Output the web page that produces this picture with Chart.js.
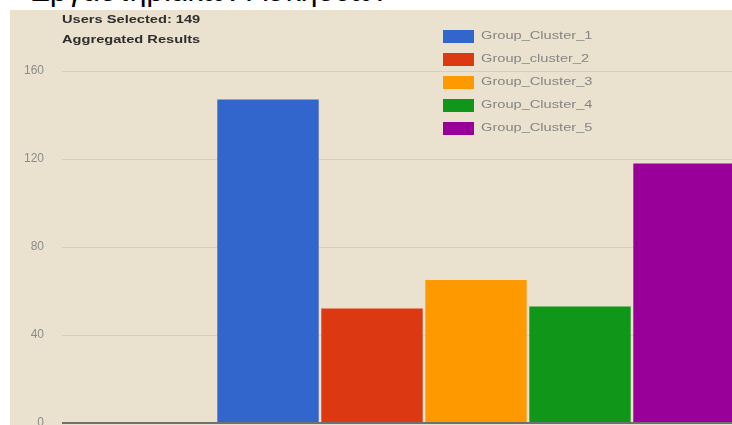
<!DOCTYPE html>
<html>
<head>
<meta charset="utf-8">
<script src="https://cdn.jsdelivr.net/npm/chart.js@4/dist/chart.umd.min.js"></script>
<style>
  html, body { margin: 0; padding: 0; background: #fff; }
  body { width: 732px; height: 425px; overflow: hidden; position: relative; }
  #heading {
    position: absolute; left: 30px; top: -24px;
    font: 30px/30px "Liberation Sans", Arial, sans-serif; color: #000;
    white-space: nowrap; z-index: 0;
  }
  #chartBox {
    position: absolute; left: 10px; top: 10px; width: 880px; height: 415px;
    background: #eae1cf; z-index: 1;
  }
</style>
</head>
<body>
<div id="heading">Εργαστηριακών Ασκήσεων</div>
<div id="chartBox"><canvas id="clusterChart"></canvas></div>
<script>
const headerLines = ['Users Selected: 149', 'Aggregated Results'];
const categories = [''];
const seriesLabels = ['Group_Cluster_1', 'Group_cluster_2', 'Group_Cluster_3', 'Group_Cluster_4', 'Group_Cluster_5'];
const seriesValues = [147, 52, 65, 53, 118];
const seriesColors = ['#3366cc', '#dc3912', '#ff9900', '#109618', '#990099'];
const yTicks = [0, 40, 80, 120, 160];

// header text and the boxed legend drawn straight onto the canvas,
// text is stretched sideways like the old exported image
const overlay = {
    id: 'overlay',
    afterDraw(chart) {
        const ctx = chart.ctx;
        const area = chart.chartArea;
        const stretch = 1.33;
        ctx.save();
        ctx.textBaseline = 'middle';

        ctx.fillStyle = '#2e2e2e';
        ctx.font = 'bold 11px "Liberation Sans", Arial, sans-serif';
        headerLines.forEach((line, i) => {
            ctx.save();
            ctx.translate(area.left, 10 + i * 20);
            ctx.scale(stretch, 1);
            ctx.fillText(line, 0, 0);
            ctx.restore();
        });

        ctx.font = '11px "Liberation Sans", Arial, sans-serif';
        chart.data.datasets.forEach((ds, i) => {
            const y = 26 + i * 23;
            ctx.fillStyle = ds.backgroundColor;
            ctx.fillRect(433, y - 6, 31, 13);
            ctx.save();
            ctx.translate(471, y);
            ctx.scale(stretch, 1);
            ctx.fillStyle = '#858585';
            ctx.fillText(ds.label, 0, 0);
            ctx.restore();
        });
        ctx.restore();
    }
};

new Chart(document.getElementById('clusterChart'), {
    type: 'bar',
    data: {
        labels: categories,
        datasets: seriesLabels.map((label, i) => ({
            label,
            data: [seriesValues[i]],
            backgroundColor: seriesColors[i],
            borderWidth: 0,
            barPercentage: 0.975,
            categoryPercentage: 0.628
        }))
    },
    options: {
        responsive: true,
        maintainAspectRatio: false,
        animation: false,
        layout: { padding: { top: 61, bottom: 2, left: 0, right: 0 } },
        plugins: {
            legend: { display: false },
            title: { display: false },
            tooltip: { enabled: false }
        },
        scales: {
            x: { display: false },
            y: {
                min: 0,
                max: 160,
                afterBuildTicks: scale => { scale.ticks = yTicks.map(v => ({ value: v })); },
                afterFit: scale => {
                    scale.width = 52;
                    scale.paddingTop = 0;
                    scale.paddingBottom = 0;
                },
                border: { display: false },
                grid: {
                    drawTicks: false,
                    color: ctx => ctx.tick && ctx.tick.value === 0 ? '#707070' : 'rgba(120,105,80,0.16)',
                    lineWidth: ctx => ctx.tick && ctx.tick.value === 0 ? 2 : 1
                },
                ticks: {
                    padding: 18,
                    color: '#8c8c8c',
                    font: { family: '"Liberation Sans", Arial, sans-serif', size: 12 }
                }
            }
        }
    },
    plugins: [overlay]
});
</script>
</body>
</html>
